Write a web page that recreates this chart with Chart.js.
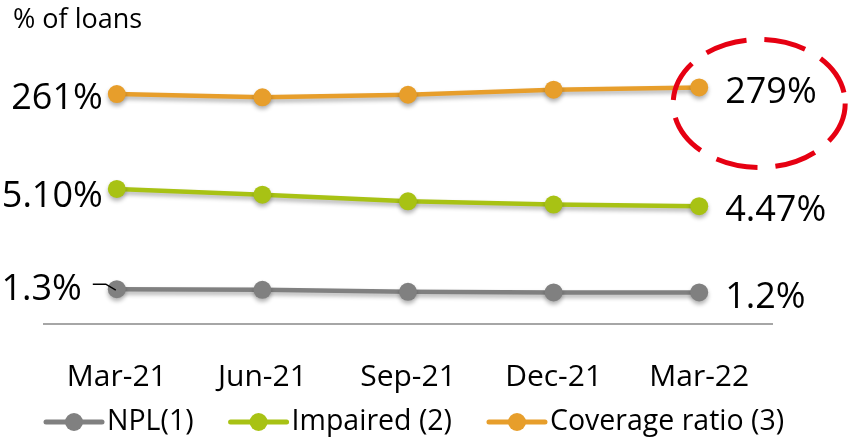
<!DOCTYPE html>
<html lang="en">
<head>
<meta charset="UTF-8">
<title>% of loans</title>
<script src="https://cdn.jsdelivr.net/npm/chart.js"></script>
<style>
    body { margin: 0; background: #fff; }
    #wrap { width: 850px; height: 442px; }
</style>
</head>
<body>
<div id="wrap"><canvas id="loansChart"></canvas></div>
<script>
    const quarters = ['Mar-21', 'Jun-21', 'Sep-21', 'Dec-21', 'Mar-22'];
    const nplValues = [1.3, 1.28, 1.22, 1.2, 1.2];
    const impairedValues = [5.10, 4.89, 4.65, 4.53, 4.47];
    const coverageValues = [261, 252, 259, 273, 279];
    const seriesNames = ['NPL(1)', 'Impaired (2)', 'Coverage ratio (3)'];
    const seriesDecimals = [1, 2, 0];

    const FONT = "'Open Sans', 'Noto Sans', sans-serif";

    // value labels at both ends, the ellipse, the title and a hand-made legend
    const decorations = {
        id: 'decorations',
        beforeDatasetsDraw(chart) {
            const ctx = chart.ctx;
            ctx.save();
            ctx.shadowColor = 'rgba(0,0,0,0.3)';
            ctx.shadowBlur = 4;
            ctx.shadowOffsetY = 3;
        },
        afterDatasetsDraw(chart) {
            chart.ctx.restore();
        },
        afterDraw(chart) {
            const ctx = chart.ctx;
            ctx.save();
            ctx.fillStyle = '#000';

            ctx.font = '27px ' + FONT;
            ctx.textBaseline = 'alphabetic';
            ctx.textAlign = 'left';
            ctx.fillText('% of loans', 13, 28);

            ctx.font = '36px ' + FONT;
            ctx.textBaseline = 'middle';
            const leftNudge = [1, 8, 5];
            chart.data.datasets.forEach((ds, i) => {
                const pts = chart.getDatasetMeta(i).data;
                const first = pts[0], last = pts[pts.length - 1];
                const d = seriesDecimals[i];
                ctx.textAlign = 'right';
                const lx = i === 0 ? first.x - 35 : first.x - 14;
                ctx.fillText(ds.data[0].toFixed(d) + '%', lx, first.y + leftNudge[i]);
                ctx.textAlign = 'left';
                ctx.fillText(ds.data[ds.data.length - 1].toFixed(d) + '%', last.x + 26, last.y + 5);
            });

            // leader for the NPL start label
            const p0 = chart.getDatasetMeta(0).data[0];
            ctx.strokeStyle = '#000';
            ctx.lineWidth = 1.5;
            ctx.beginPath();
            ctx.moveTo(p0.x - 24, p0.y - 5);
            ctx.lineTo(p0.x - 11, p0.y - 5);
            ctx.lineTo(p0.x - 1, p0.y + 1);
            ctx.stroke();

            // red dashed ellipse round the latest coverage ratio
            const pc = chart.getDatasetMeta(2).data[4];
            ctx.strokeStyle = '#e60012';
            ctx.lineWidth = 5;
            ctx.setLineDash([42, 18]);
            ctx.beginPath();
            ctx.ellipse(pc.x + 60, pc.y + 16, 86, 64, 0, 0, Math.PI * 2);
            ctx.stroke();
            ctx.setLineDash([]);

            // legend
            ctx.font = '28.5px ' + FONT;
            ctx.textAlign = 'left';
            let x = 46;
            const y = 422;
            chart.data.datasets.forEach(ds => {
                ctx.strokeStyle = ds.borderColor;
                ctx.fillStyle = ds.borderColor;
                ctx.lineWidth = 5;
                ctx.lineCap = 'round';
                ctx.beginPath();
                ctx.moveTo(x, y);
                ctx.lineTo(x + 56, y);
                ctx.stroke();
                ctx.beginPath();
                ctx.arc(x + 28, y, 9, 0, Math.PI * 2);
                ctx.fill();
                ctx.fillStyle = '#000';
                ctx.fillText(ds.label, x + 61, y);
                x += 61 + ctx.measureText(ds.label).width + 37;
            });
            ctx.restore();
        }
    };

    function lineSet(label, data, color, axis) {
        return {
            label: label,
            data: data,
            yAxisID: axis,
            borderColor: color,
            backgroundColor: color,
            borderWidth: 4.5,
            pointRadius: 9,
            pointHoverRadius: 9,
            pointBorderWidth: 0,
            tension: 0
        };
    }

    new Chart(document.getElementById('loansChart'), {
        type: 'line',
        data: {
            labels: quarters,
            datasets: [
                lineSet(seriesNames[0], nplValues, '#808080', 'yNpl'),
                lineSet(seriesNames[1], impairedValues, '#a8c214', 'yImp'),
                lineSet(seriesNames[2], coverageValues, '#e79e2b', 'yCov')
            ]
        },
        options: {
            responsive: true,
            maintainAspectRatio: false,
            animation: false,
            layout: { padding: { top: 40, left: 44, right: 78, bottom: 19 } },
            plugins: { legend: { display: false }, tooltip: { enabled: false } },
            scales: {
                x: {
                    offset: true,
                    grid: { display: false },
                    border: { display: true, color: '#a6a6a6', width: 2 },
                    ticks: { color: '#000', padding: 27.5, maxRotation: 0, font: { family: FONT, size: 30 } }
                },
                yNpl: { display: false, min: 0.24, max: 8.88 },
                yImp: { display: false, min: 0.19, max: 10.51 },
                yCov: { display: false, min: -369, max: 409 }
            }
        },
        plugins: [decorations]
    });
</script>
</body>
</html>
